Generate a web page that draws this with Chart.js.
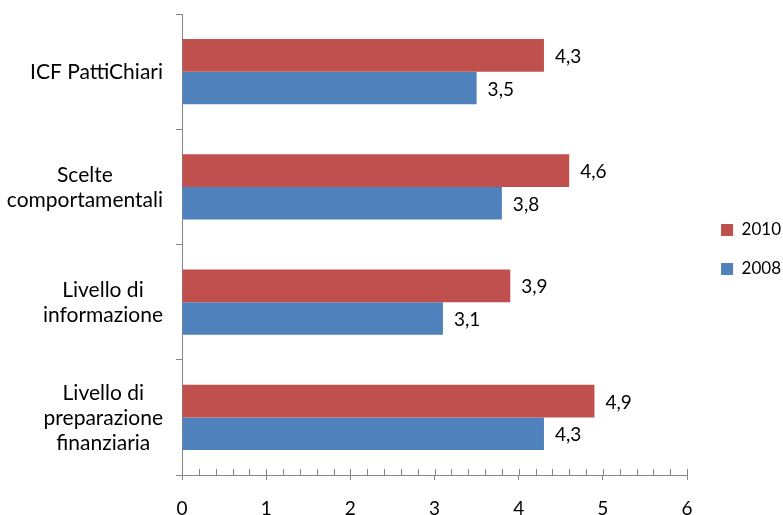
<!DOCTYPE html>
<html>
<head>
<meta charset="utf-8">
<script src="https://cdn.jsdelivr.net/npm/chart.js@4"></script>
<style>
  html, body { margin: 0; padding: 0; background: #fff; }
  #wrap { width: 783px; height: 515px; }
</style>
</head>
<body>
<div id="wrap"><canvas id="barChart"></canvas></div>
<script>
const categories = [
    'ICF PattiChiari',
    ['Scelte', 'comportamentali'],
    ['Livello di', 'informazione'],
    ['Livello di', 'preparazione', 'finanziaria']
];
const values2010 = [4.3, 4.6, 3.9, 4.9];
const values2008 = [3.5, 3.8, 3.1, 4.3];
const xTicks = [0, 1, 2, 3, 4, 5, 6];

const FONT = 'Lato, Calibri, sans-serif';
const AXIS = '#868686';

// category labels: each block centred on itself, blocks right-aligned near the axis
const categoryLabels = {
    id: 'categoryLabels',
    afterDraw(chart) {
        const y = chart.scales.y;
        const ctx = chart.ctx;
        const right = chart.chartArea.left - 19;
        const lh = 25;
        ctx.save();
        ctx.font = '21px ' + FONT;
        ctx.fillStyle = '#000';
        ctx.textBaseline = 'middle';
        ctx.textAlign = 'center';
        chart.data.labels.forEach((lab, i) => {
            const lines = Array.isArray(lab) ? lab : [lab];
            const w = Math.max(...lines.map(l => ctx.measureText(l).width));
            const cx = right - w / 2;
            const cy = y.getPixelForTick(i);
            lines.forEach((l, k) => {
                ctx.fillText(l, cx, cy + (k - (lines.length - 1) / 2) * lh + 1);
            });
        });
        ctx.restore();
    }
};

// value labels at bar ends, Italian decimal comma
const valueLabels = {
    id: 'valueLabels',
    afterDatasetsDraw(chart) {
        const ctx = chart.ctx;
        ctx.save();
        ctx.font = '19px ' + FONT;
        ctx.fillStyle = '#000';
        ctx.textBaseline = 'middle';
        ctx.textAlign = 'left';
        chart.data.datasets.forEach((ds, i) => {
            chart.getDatasetMeta(i).data.forEach((bar, j) => {
                const txt = ds.data[j].toFixed(1).replace('.', ',');
                ctx.fillText(txt, bar.x + 11, bar.y + 1.5);
            });
        });
        ctx.restore();
    }
};

// minor ticks on the value axis, pointing up into the plot
const minorTicks = {
    id: 'minorTicks',
    afterDraw(chart) {
        const x = chart.scales.x;
        const ctx = chart.ctx;
        const yAxis = chart.chartArea.bottom;
        ctx.save();
        ctx.strokeStyle = AXIS;
        ctx.lineWidth = 1;
        ctx.beginPath();
        for (let v = 0; v <= 30; v++) {
            const px = Math.round(x.getPixelForValue(v / 5)) + 0.5;
            ctx.moveTo(px, yAxis - 6);
            ctx.lineTo(px, yAxis);
        }
        ctx.stroke();
        ctx.restore();
    }
};

var ctx = document.getElementById('barChart').getContext('2d');
var myChart = new Chart(ctx, {
    type: 'bar',
    data: {
        labels: categories,
        datasets: [{
            label: '2010',
            data: values2010,
            backgroundColor: '#C0504D',
            borderWidth: 0,
            barPercentage: 1,
            categoryPercentage: 0.565
        }, {
            label: '2008',
            data: values2008,
            backgroundColor: '#4F81BD',
            borderWidth: 0,
            barPercentage: 1,
            categoryPercentage: 0.565
        }]
    },
    options: {
        indexAxis: 'y',
        responsive: true,
        maintainAspectRatio: false,
        animation: false,
        layout: { padding: { left: 176, right: -8, top: 14, bottom: 0 } },
        plugins: {
            legend: {
                position: 'right',
                fullSize: false,
                title: {
                    display: true,
                    text: ' ',
                    font: { size: 8, lineHeight: 1 },
                    padding: 1
                },
                labels: {
                    font: { family: FONT, size: 17 },
                    color: '#000',
                    boxWidth: 12,
                    boxHeight: 12,
                    padding: 22
                }
            },
            tooltip: { enabled: false }
        },
        scales: {
            x: {
                min: 0,
                max: 6,
                afterBuildTicks(scale) {
                    scale.ticks = xTicks.map(v => ({ value: v }));
                },
                afterFit(scale) {
                    scale.height = 40;
                },
                grid: {
                    drawOnChartArea: false,
                    drawTicks: true,
                    tickLength: 5,
                    color: AXIS
                },
                border: { color: AXIS, width: 1 },
                ticks: {
                    color: '#000',
                    padding: 21,
                    font: { family: FONT, size: 19, lineHeight: 0.8 }
                }
            },
            y: {
                grid: {
                    drawOnChartArea: false,
                    offset: true,
                    tickLength: 6,
                    color: AXIS
                },
                border: { color: AXIS, width: 1 },
                ticks: { display: false }
            },
            // empty spacer between plot and legend
            gap: {
                axis: 'y',
                position: 'right',
                grid: { display: false },
                border: { display: false },
                ticks: { display: false },
                afterFit(scale) {
                    scale.width = 12;
                }
            }
        }
    },
    plugins: [categoryLabels, valueLabels, minorTicks]
});
</script>
</body>
</html>
